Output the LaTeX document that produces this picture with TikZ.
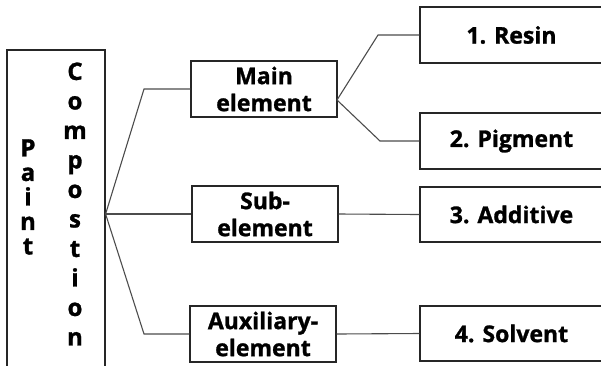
\documentclass[tikz,border=0pt]{standalone}
\usepackage{fontspec}
\setmainfont{Open Sans}[BoldFeatures={FakeBold=1.2}]
\begin{document}
\begin{tikzpicture}[x=1pt,y=-1pt,
  font=\fontsize{23}{27}\selectfont\bfseries,
  box/.style={draw=black!85, line width=1.2pt, inner sep=0pt, align=center, fill=white},
  conn/.style={draw=black!70, line width=1.1pt},
  letters/.style={align=center, inner sep=0pt}]
\useasboundingbox (0,0) rectangle (601,365);
\begin{scope}
\clip (0,0) rectangle (601,365);
% left box
\node[box, minimum width=98pt, minimum height=328pt] (pc) at (56,214) {};
\node[letters, font=\fontsize{24}{24.5}\selectfont\bfseries] (paint) at (28,197) {P\\a\\i\\n\\t};
\node[letters, font=\fontsize{24}{29.5}\selectfont\bfseries] (comp) at (75,204) {C\\o\\m\\p\\o\\s\\t\\i\\o\\n};
% middle boxes
\node[box, minimum width=146pt, minimum height=56pt] (main) at (264,89) {Main\\element};
\node[box, minimum width=146pt, minimum height=56pt] (sub) at (265,214) {Sub-\\element};
\node[box, minimum width=146pt, minimum height=56pt] (aux) at (263,334) {Auxiliary-\\element};
% right boxes
\node[box, minimum width=183pt, minimum height=56pt] (resin) at (511.5,35) {1. Resin};
\node[box, minimum width=183pt, minimum height=56pt] (pig) at (511.5,141) {2. Pigment};
\node[box, minimum width=183pt, minimum height=55pt] (add) at (511.5,214.5) {3. Additive};
\node[box, minimum width=183pt, minimum height=55pt] (solv) at (511.5,333.5) {4. Solvent};
% connectors
\coordinate (b1) at (144,89);
\coordinate (b3) at (144,334);
\coordinate (mf) at (337,100);
\coordinate (r1) at (378,35);
\coordinate (r2) at (380,141);
\draw[conn] (pc.east) -- (b1) -- (main.west);
\draw[conn] (pc.east) -- (sub.west);
\draw[conn] (pc.east) -- (b3) -- (aux.west);
\draw[conn] (mf) -- (r1) -- (resin.west);
\draw[conn] (mf) -- (r2) -- (pig.west);
\draw[conn] (sub.east) -- (add.west);
\draw[conn] (aux.east) -- (solv.west);
\end{scope}
\end{tikzpicture}
\end{document}
